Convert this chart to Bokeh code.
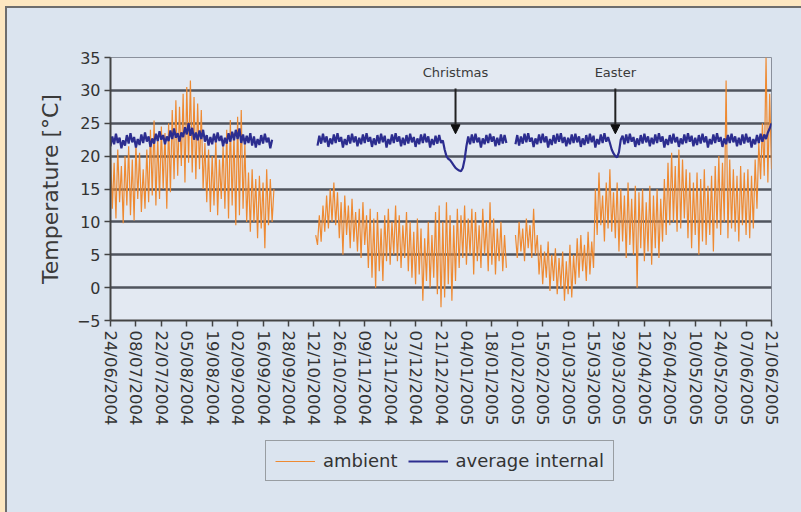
import numpy as np
from bokeh.plotting import figure
from bokeh.layouts import column
from bokeh.models import Range1d, FixedTicker, Legend, LegendItem, Arrow, NormalHead, Label
from bokeh.embed import file_html
from bokeh.resources import INLINE

# ---------------- data (day offset from 24/06/2004) ----------------
tick_labels = ["24/06/2004", "08/07/2004", "22/07/2004", "05/08/2004", "19/08/2004",
               "02/09/2004", "16/09/2004", "28/09/2004", "12/10/2004", "26/10/2004",
               "09/11/2004", "23/11/2004", "07/12/2004", "21/12/2004", "04/01/2005",
               "18/01/2005", "01/02/2005", "15/02/2005", "01/03/2005", "15/03/2005",
               "29/03/2005", "12/04/2005", "26/04/2005", "10/05/2005", "24/05/2005",
               "07/06/2005", "21/06/2005"]
tick_step_days = 14
y_ticks = [-5, 0, 5, 10, 15, 20, 25, 30, 35]
series_names = ["ambient", "average internal"]

ambient_starts = [0, 113, 223]
ambient_a = [20.5, 12.0, 19.0, 10.5, 21.0, 13.0, 18.5, 9.8, 20.0, 12.5,
             21.5, 11.0, 19.5, 10.2, 22.0, 13.5, 20.5, 11.5, 18.0, 12.0,
             21.0, 13.0, 24.0, 14.0, 25.4, 12.5, 23.0, 13.5, 24.5, 15.0,
             23.5, 12.0, 25.0, 14.5, 27.0, 16.5, 28.5, 17.0, 27.5, 18.5,
             29.5, 16.0, 30.5, 19.0, 31.5, 17.5, 29.0, 16.5, 28.0, 18.0,
             27.0, 15.0, 22.0, 13.0, 21.0, 11.5, 20.0, 12.5, 22.5, 11.0,
             19.5, 13.5, 21.5, 12.0, 24.0, 10.5, 25.5, 12.5, 23.5, 9.5,
             26.0, 11.0, 27.0, 12.0, 22.0, 10.0, 17.5, 8.5, 18.0, 10.0,
             16.5, 7.5, 17.0, 9.0, 16.0, 6.0, 18.0, 9.5, 16.5, 10.0, 15.0]
ambient_b = [8.0, 6.5, 11.0, 7.0, 12.5, 8.5, 14.0, 9.0, 15.0, 10.0,
             16.0, 9.5, 14.5, 7.5, 13.0, 5.0, 14.0, 8.0, 12.5, 6.0,
             13.5, 7.0, 11.5, 5.5, 12.0, 4.5, 13.0, 6.5, 11.0, 3.0,
             12.0, 1.5, 10.5, 0.0, 11.5, 2.5, 9.0, 1.0, 11.0, 4.0,
             12.0, 3.5, 10.0, 5.0, 12.5, 4.0, 11.0, 3.0, 9.5, 4.5,
             11.5, 2.5, 10.0, 1.5, 8.5, 0.5, 10.5, 2.0, 9.0, -2.0,
             7.5, 1.0, 10.0, 0.0, 8.0, 1.5, 11.5, -1.0, 12.5, -3.0,
             10.0, -1.5, 13.0, 0.5, 11.0, -2.0, 9.5, 1.0, 12.0, 3.0,
             11.0, 4.5, 12.5, 3.5, 10.5, 5.0, 12.0, 2.0, 11.5, 4.0,
             9.5, 3.0, 12.0, 5.0, 10.0, 2.5, 13.0, 3.5, 10.5, 2.0,
             9.0, 4.0, 10.0, 2.5, 8.0, 3.0]
ambient_c = [8.0, 4.5, 10.0, 5.5, 9.0, 4.0, 10.5, 6.0, 9.5, 4.5,
             12.0, 5.0, 8.0, 2.0, 6.5, 0.5, 5.5, 1.5, 7.0, -0.5,
             5.0, 1.0, 6.0, -1.0, 4.5, 0.0, 5.5, -2.0, 4.0, -1.0,
             6.5, -1.5, 5.0, 0.5, 7.5, 1.5, 8.0, 2.5, 6.5, 1.0,
             8.5, 2.0, 7.0, 3.0, 15.0, 8.0, 17.5, 9.5, 14.0, 7.0,
             16.0, 9.0, 18.0, 8.5, 14.5, 7.5, 16.0, 5.5, 15.0, 7.0,
             14.0, 4.5, 16.0, 6.5, 13.5, 5.0, 15.5, 0.0, 14.5, 6.0,
             15.0, 4.0, 13.0, 5.5, 15.5, 3.5, 14.0, 6.0, 15.0, 4.5,
             13.5, 7.0, 16.5, 8.0, 19.0, 9.5, 20.5, 10.0, 18.5, 8.5,
             21.0, 9.0, 19.5, 10.5, 18.0, 7.5, 17.5, 6.0, 16.0, 8.0,
             17.5, 5.0, 16.5, 7.0, 18.0, 6.5, 15.5, 8.0, 17.0, 5.5,
             18.5, 9.0, 20.0, 8.0, 19.0, 10.0, 31.5, 7.5, 19.5, 9.0,
             18.0, 8.5, 17.0, 7.0, 18.5, 9.5, 17.5, 8.0, 18.0, 7.5,
             17.0, 9.0, 19.5, 12.0, 22.0, 16.5, 25.0, 17.0, 35.0, 16.0, 29.5, 18.0]

internal_starts = [0, 114, 223]
internal_a = [21.5, 23.0, 21.8, 23.4, 22.0, 22.8, 21.2, 22.4, 21.6, 23.2,
              21.9, 23.5, 22.1, 22.9, 21.3, 22.6, 21.7, 23.3, 22.0, 23.6,
              22.2, 23.0, 21.4, 22.7, 21.9, 23.4, 22.3, 23.8, 22.5, 23.2,
              21.8, 23.0, 22.3, 23.9, 22.6, 24.2, 22.8, 23.5, 22.2, 23.6,
              22.9, 24.4, 23.3, 25.0, 23.1, 24.3, 22.5, 23.6, 22.4, 23.9,
              22.6, 24.0, 22.2, 23.2, 21.6, 22.9, 21.8, 23.4, 22.1, 23.6,
              22.3, 23.1, 21.5, 22.8, 21.9, 23.5, 22.2, 23.7, 22.4, 24.0,
              22.6, 24.2, 22.0, 23.3, 21.8, 23.1, 22.0, 23.5, 21.6, 23.0,
              21.3, 22.6, 21.7, 23.2, 21.9, 23.4, 22.1, 22.8, 21.2, 22.5]
internal_b = [21.6, 23.1, 21.9, 23.4, 22.1, 23.0, 21.4, 22.7, 21.8, 23.3,
              22.0, 23.5, 22.2, 22.9, 21.3, 22.6, 21.7, 23.2, 21.9, 23.4,
              22.1, 23.0, 21.5, 22.8, 21.8, 23.3, 22.0, 23.5, 22.2, 22.9,
              21.4, 22.7, 21.7, 23.2, 21.9, 23.4, 22.1, 23.1, 21.3, 22.6,
              21.8, 23.3, 22.0, 23.5, 22.2, 23.0, 21.5, 22.8, 21.7, 23.2,
              21.9, 23.4, 22.1, 22.9, 21.4, 22.7, 21.8, 23.3, 22.0, 23.4,
              22.1, 23.0, 21.3, 22.6, 21.7, 23.1, 21.9, 23.2, 22.0, 22.4,
              21.0, 20.0, 19.6, 19.4, 19.0, 18.6, 18.2, 18.0, 17.8, 17.7,
              18.2, 19.5, 21.5, 23.0, 21.8, 23.3, 22.0, 23.4, 22.1, 22.8,
              21.3, 22.7, 21.8, 23.2, 22.0, 23.4, 22.2, 23.0, 21.5, 22.8,
              21.7, 23.3, 21.9, 23.2, 22.0]
internal_c = [21.8, 23.2, 21.6, 23.0, 21.9, 23.4, 22.1, 23.5, 22.2, 22.8,
              21.4, 22.7, 21.8, 23.3, 22.0, 23.4, 22.1, 23.0, 21.3, 22.6,
              21.7, 23.2, 21.9, 23.4, 22.2, 23.5, 22.0, 22.9, 21.5, 22.8,
              21.8, 23.3, 22.0, 23.4, 22.1, 23.0, 21.4, 22.7, 21.7, 23.2,
              21.9, 23.4, 22.1, 23.1, 21.3, 22.6, 21.8, 23.3, 22.0, 23.5,
              22.2, 22.9, 22.0, 21.0, 20.4, 20.0, 19.8, 20.6, 22.5, 23.1,
              21.8, 23.3, 22.0, 23.4, 22.2, 22.9, 21.4, 22.7, 21.7, 23.2,
              21.9, 23.4, 22.1, 23.0, 21.5, 22.8, 21.8, 23.3, 22.0, 23.5,
              22.2, 23.0, 21.3, 22.6, 21.7, 23.2, 21.9, 23.4, 22.1, 22.9,
              21.4, 22.7, 21.8, 23.3, 22.0, 23.5, 22.2, 23.1, 21.5, 22.8,
              21.7, 23.2, 21.9, 23.4, 22.1, 23.0, 21.3, 22.6, 21.8, 23.3,
              22.0, 23.5, 22.2, 22.9, 21.4, 22.7, 21.8, 23.2, 22.0, 23.4,
              22.1, 23.0, 21.5, 22.8, 21.7, 23.3, 21.9, 23.4, 22.1, 22.9,
              21.3, 22.6, 21.8, 23.2, 22.0, 23.4, 22.2, 23.3, 22.6, 23.6, 24.2, 25.0]

# annotations (day offset, temperature)
christmas_day = 190
easter_day = 278
arrow_top = 30.3
arrow_tip = 23.4
note_y = 32.7

# ---------------- styling ----------------
PEACH = "#fde7c1"
PANEL = "#dbe4ef"
PLOT_BG = "#e3e9f2"
ORANGE = "#ee8a32"
NAVY = "#2c2d8f"
GRID = "#50545e"
TXT = "#333333"
FONT = "DejaVu Sans"


def joined(starts, segments):
    xs, ys = [], []
    for i, (s, seg) in enumerate(zip(starts, segments)):
        if i:
            xs.append(np.nan)
            ys.append(np.nan)
        xs.extend(s + np.arange(len(seg)))
        ys.extend(seg)
    return np.array(xs, dtype=float), np.array(ys, dtype=float)


amb_x, amb_y = joined(ambient_starts, [ambient_a, ambient_b, ambient_c])
int_x, int_y = joined(internal_starts, [internal_a, internal_b, internal_c])

x_ticks = [i * tick_step_days for i in range(len(tick_labels))]

# ---------------- main chart ----------------
p = figure(frame_width=661, frame_height=263, output_backend="svg", toolbar_location=None,
           x_range=Range1d(x_ticks[0], x_ticks[-1]), y_range=Range1d(y_ticks[0], y_ticks[-1]),
           min_border_left=103, min_border_right=30, min_border_top=49, min_border_bottom=120)
p.border_fill_color = PANEL
p.background_fill_color = PLOT_BG
p.outline_line_color = "#8a909c"
p.outline_line_width = 1

p.line(amb_x, amb_y, line_color=ORANGE, line_width=1.2)
p.line(int_x, int_y, line_color=NAVY, line_width=2.2)

p.xaxis.ticker = FixedTicker(ticks=x_ticks)
p.xaxis.major_label_overrides = {t: l for t, l in zip(x_ticks, tick_labels)}
p.xaxis.major_label_orientation = "vertical"
p.yaxis.ticker = FixedTicker(ticks=y_ticks)
p.yaxis.axis_label = "Temperature [°C]"
for ax in (p.xaxis[0], p.yaxis[0]):
    ax.major_label_text_font = FONT
    ax.major_label_text_font_size = "16px"
    ax.major_label_text_color = TXT
    ax.axis_line_color = "#444444"
    ax.axis_line_width = 2
    ax.major_tick_line_color = "#444444"
    ax.major_tick_line_width = 1.5
    ax.major_tick_out = 6
    ax.major_tick_in = 0
    ax.minor_tick_line_color = None
    ax.major_label_standoff = 4
p.xaxis.major_label_text_font_size = "16.5px"
p.yaxis.axis_label_text_font = FONT
p.yaxis.axis_label_text_font_size = "22px"
p.yaxis.axis_label_text_font_style = "normal"
p.yaxis.axis_label_text_color = "#3a3a3a"
p.yaxis.axis_label_standoff = 11

p.xgrid.grid_line_color = None
p.ygrid.ticker = FixedTicker(ticks=y_ticks[1:-1])
p.ygrid.grid_line_color = GRID
p.ygrid.grid_line_width = 2.4

for day, name in ((christmas_day, "Christmas"), (easter_day, "Easter")):
    p.add_layout(Arrow(end=NormalHead(size=9, fill_color="#111111", line_color="#111111"),
                       x_start=day, y_start=arrow_top, x_end=day, y_end=arrow_tip,
                       line_color="#222222", line_width=2))
    p.add_layout(Label(x=day, y=note_y, text=name, text_align="center", text_baseline="middle",
                       text_font=FONT, text_font_size="13px", text_color="#3a3a3a"))

# ---------------- legend strip below the chart ----------------
# The strip carries the same series, but its value window lies above all data,
# so only the legend keys are drawn.
lg = figure(width=794, height=72, output_backend="svg", toolbar_location=None,
            x_range=Range1d(x_ticks[0], x_ticks[-1]), y_range=Range1d(100, 101),
            min_border_left=0, min_border_right=0, min_border_top=0, min_border_bottom=0)
lg.axis.visible = False
lg.grid.visible = False
lg.outline_line_color = None
lg.border_fill_color = PANEL
lg.background_fill_color = PANEL
k_amb = lg.line(amb_x, amb_y, line_color=ORANGE, line_width=1.2)
k_int = lg.line(int_x, int_y, line_color=NAVY, line_width=2.2)

legend = Legend(items=[LegendItem(label=series_names[0], renderers=[k_amb]),
                       LegendItem(label=series_names[1], renderers=[k_int])],
                orientation="horizontal", location=(155, 31))
legend.label_text_font = FONT
legend.label_text_font_size = "18px"
legend.label_text_color = TXT
legend.glyph_width = 40
legend.glyph_height = 20
legend.label_standoff = 8
legend.spacing = 10
legend.padding = 9
legend.margin = 0
legend.border_line_color = "#555555"
legend.border_line_width = 1.5
legend.background_fill_alpha = 0
lg.add_layout(legend)

page = column(p, lg, spacing=0)

# page frame: peach strips with a grey rule at the top and left, figure offset inside
GRAY_LINE = "linear-gradient(#6d6d6d,#6d6d6d)"
PEACH_FILL = "linear-gradient(" + PEACH + "," + PEACH + ")"
STYLE = ("<style>html{background:"
         + GRAY_LINE + " 5px 6px/100% 2px no-repeat,"
         + GRAY_LINE + " 5px 6px/2px 100% no-repeat,"
         + PEACH_FILL + " 0 0/100% 6px no-repeat,"
         + PEACH_FILL + " 0 0/5px 100% no-repeat,"
         + PANEL + ";}body{background:transparent;padding:8px 0 0 7px !important;"
         "overflow:hidden;}</style>")

html = file_html(page, INLINE)
html = html.replace("</head>", STYLE + "</head>", 1)
open("out.html", "w").write(html)
